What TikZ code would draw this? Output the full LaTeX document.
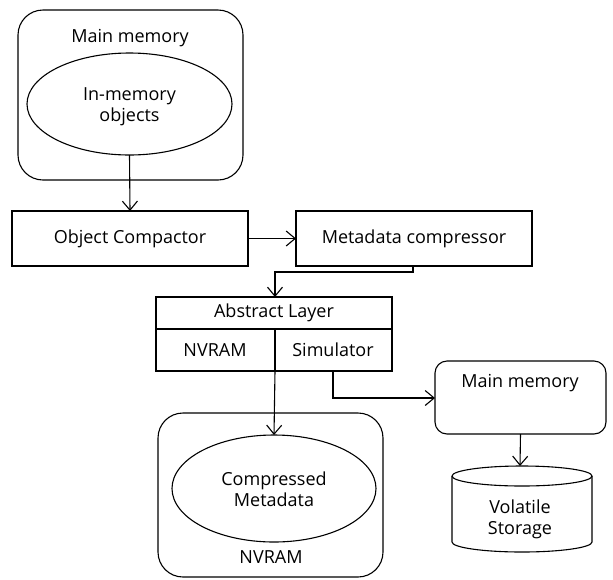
\documentclass[tikz,border=0pt]{standalone}
\usepackage{fontspec}
\setmainfont{Open Sans}
\usetikzlibrary{arrows.meta,shapes.geometric}
\begin{document}
\begin{tikzpicture}[x=1pt,y=-1pt,
  line width=1.1pt,
  every node/.style={font=\fontsize{18}{21}\selectfont, inner sep=0pt, outer sep=0pt},
  box/.style={draw, rectangle},
  rbox/.style={draw, rectangle, rounded corners=#1},
  oval/.style={draw, ellipse},
  arr/.style={-{Straight Barb[length=9pt,width=15pt,line width=1.1pt]}},
  lbl/.style={align=center}]
\useasboundingbox (0,0) rectangle (613,579);
% top main memory
\node[rbox=25pt, minimum width=225pt, minimum height=170pt] (mm1) at (130.5,95) {};
\node[lbl] (mm1t) at (130,38) {Main memory};
\node[oval, minimum width=205pt, minimum height=102pt] (obj) at (129.5,104) {};
\node[lbl] (objt) at (129.5,107) {In-memory\\objects};
% compactor & compressor
\node[box, minimum width=236pt, minimum height=55pt] (oc) at (130,238.5) {Object Compactor};
\node[box, minimum width=236pt, minimum height=55pt] (mc) at (414,238.5) {Metadata compressor};
% abstract layer
\node[box, minimum width=236pt, minimum height=74pt] (abs) at (274,334) {};
\coordinate (divL) at (156,329);
\coordinate (divR) at (392,329);
\coordinate (divM) at (275,329);
\draw (divL) -- (divR);
\node (abst) at (274,312.5) {Abstract Layer};
\node (nvt) at (215,350) {NVRAM};
\node (simt) at (333,350) {Simulator};
% NVRAM box
\node[rbox=25pt, minimum width=225pt, minimum height=164pt] (nv) at (270.5,495) {};
\node[oval, minimum width=204pt, minimum height=107pt] (cmeta) at (274,488.5) {};
\node[lbl] (cmetat) at (274,489) {Compressed\\Metadata};
\node (nvl) at (271,557) {NVRAM};
% right main memory
\node[rbox=12pt, minimum width=171pt, minimum height=73pt] (mm2) at (520.5,397.5) {};
\node (mm2t) at (520,383) {Main memory};
% cylinder
\coordinate (cyltop) at (520,466);
\draw (452,476) arc[start angle=180,end angle=-180,x radius=70pt,y radius=10pt];
\draw (452,476) -- (452,542) arc[start angle=180,end angle=360,x radius=70pt,y radius=10pt] -- (592,476);
\node[lbl, text depth=0pt] (vs) at (520,517) {Volatile\\Storage};
% connectors
\draw[arr] (obj.south) -- (oc.north);
\draw[arr] (oc.east) -- (mc.west);
\coordinate (mcb) at (413,266);
\draw[arr] (mcb) -- (413,272) -| (abs.north -| divM);
\draw (divM) -- (abs.south -| divM);
\draw[arr] (abs.south -| divM) -- (cmeta.north);
\coordinate (simb) at (333,371);
\draw[arr] (simb) |- (mm2.west |- 0,398);
\draw[arr] (mm2.south) -- (cyltop);
\end{tikzpicture}
\end{document}
